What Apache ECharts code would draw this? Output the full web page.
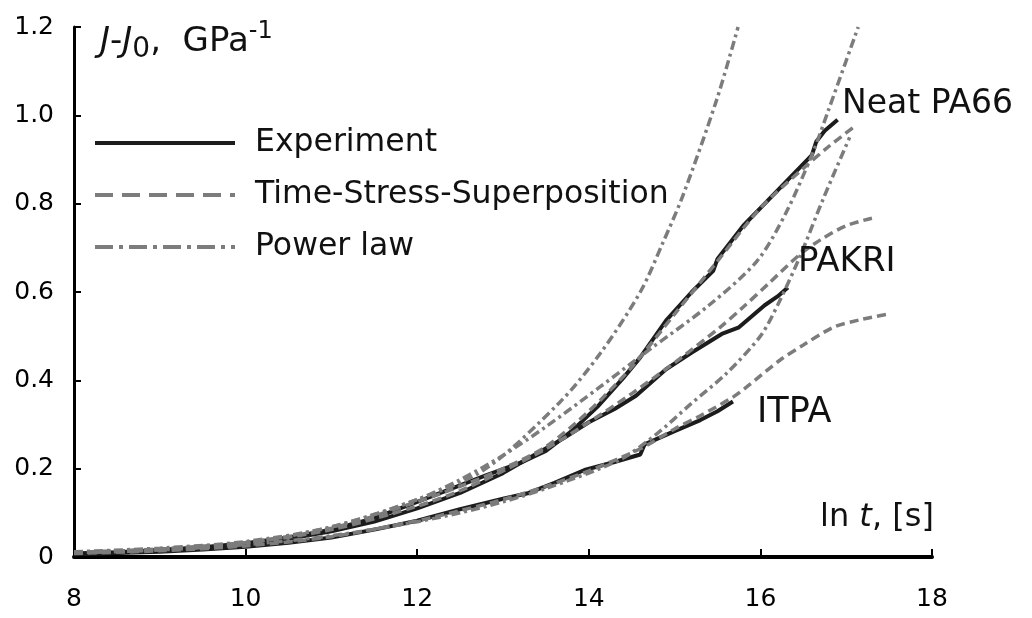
<!DOCTYPE html>
<html>
<head>
<meta charset="utf-8">
<script src="https://cdn.jsdelivr.net/npm/echarts@6/dist/echarts.min.js"></script>
<style>
  html, body { margin: 0; padding: 0; background: #fff; }
  #chart { width: 1032px; height: 618px; }
</style>
</head>
<body>
<div id="chart"></div>
<script>
// ln t, J-J0 pairs
const neatExp = [[8.0,0.008],[8.5,0.011],[9.0,0.016],[9.5,0.022],[10.0,0.031],[10.5,0.044],[11.0,0.062],[11.5,0.088],[12.0,0.125],[12.4,0.155],[12.8,0.185],[13.2,0.213],[13.5,0.24],[13.8,0.285],[14.1,0.34],[14.4,0.405],[14.6,0.452],[14.9,0.535],[15.2,0.6],[15.45,0.648],[15.5,0.675],[15.8,0.75],[16.0,0.79],[16.3,0.85],[16.6,0.91],[16.65,0.94],[16.75,0.965],[16.9,0.99]];
const pakriExp = [[8.0,0.007],[8.5,0.01],[9.0,0.015],[9.5,0.021],[10.0,0.029],[10.5,0.041],[11.0,0.058],[11.5,0.08],[12.0,0.11],[12.5,0.145],[13.0,0.19],[13.4,0.235],[13.7,0.268],[14.0,0.305],[14.3,0.335],[14.55,0.365],[14.9,0.425],[15.2,0.463],[15.55,0.505],[15.75,0.52],[16.05,0.57],[16.2,0.59],[16.32,0.61]];
const itpaExp = [[8.0,0.006],[8.5,0.009],[9.0,0.012],[9.5,0.017],[10.0,0.023],[10.5,0.032],[11.0,0.044],[11.5,0.062],[12.0,0.082],[12.5,0.108],[13.0,0.132],[13.3,0.145],[13.6,0.168],[13.95,0.197],[14.3,0.215],[14.6,0.232],[14.65,0.255],[15.0,0.285],[15.3,0.31],[15.5,0.33],[15.68,0.352]];

const neatTss = [[8.0,0.01],[9.0,0.018],[10.0,0.033],[11.0,0.065],[12.0,0.125],[12.5,0.16],[13.0,0.2],[13.5,0.25],[14.0,0.33],[14.5,0.43],[15.0,0.55],[15.5,0.67],[16.0,0.79],[16.5,0.88],[16.8,0.93],[17.1,0.975]];
const pakriTss = [[8.0,0.01],[9.0,0.018],[10.0,0.032],[11.0,0.062],[12.0,0.115],[12.5,0.15],[13.0,0.195],[13.5,0.245],[14.0,0.305],[14.5,0.37],[15.0,0.44],[15.53,0.52],[15.8,0.566],[16.1,0.62],[16.46,0.685],[16.7,0.718],[17.0,0.75],[17.3,0.767]];
const itpaTss = [[8.0,0.008],[9.0,0.014],[10.0,0.025],[11.0,0.046],[12.0,0.082],[12.5,0.105],[13.0,0.13],[13.5,0.16],[14.0,0.195],[14.6,0.245],[15.0,0.29],[15.3,0.32],[15.68,0.362],[15.84,0.385],[16.23,0.446],[16.5,0.48],[16.85,0.52],[17.16,0.537],[17.49,0.55]];

const neatPow = [[8.0,0.012],[9.0,0.02],[10.0,0.035],[11.0,0.068],[12.0,0.13],[12.8,0.2],[13.66,0.35],[14.13,0.46],[14.6,0.6],[14.86,0.71],[15.1,0.82],[15.49,1.035],[15.74,1.2]];
const pakriPow = [[8.0,0.01],[9.0,0.017],[10.0,0.032],[11.0,0.068],[12.0,0.13],[12.5,0.175],[13.0,0.23],[13.5,0.295],[14.13,0.385],[14.71,0.47],[15.4,0.57],[15.96,0.67],[16.3,0.78],[16.61,0.915],[16.79,1.01],[17.14,1.2]];
const itpaPow = [[8.0,0.009],[9.0,0.016],[10.0,0.028],[11.0,0.048],[12.0,0.08],[12.5,0.1],[13.0,0.125],[13.5,0.155],[14.36,0.22],[14.8,0.28],[15.18,0.345],[15.6,0.415],[16.0,0.5],[16.2,0.57],[16.46,0.68],[16.73,0.81],[17.04,0.95]];

const xTicks = [8, 10, 12, 14, 16, 18];
const yTicks = [0, 0.2, 0.4, 0.6, 0.8, 1.0, 1.2];
const legendNames = ["Experiment", "Time-Stress-Superposition", "Power law"];

const FONT = "DejaVu Sans";
const BLACK = "#1c1c1c";
const GREY = "#7c7c7c";

function expLine(data) {
  return {
    name: legendNames[0], type: "line", data: data, symbol: "none",
    color: BLACK, lineStyle: { color: BLACK, width: 4 }, z: 3
  };
}
function tssLine(data) {
  return {
    name: legendNames[1], type: "line", data: data, symbol: "none", smooth: 0.3,
    color: GREY, lineStyle: { color: GREY, width: 3.5, type: [9, 5] }, z: 4
  };
}
function powLine(data) {
  return {
    name: legendNames[2], type: "line", data: data, symbol: "none", smooth: 0.3,
    color: GREY, lineStyle: { color: GREY, width: 3.5, type: [9, 4, 3, 4] }, z: 4
  };
}

const chart = echarts.init(document.getElementById("chart"));

const hiddenDot = { opacity: 0 };

const option = {
  animation: false,
  backgroundColor: "#fff",
  grid: { left: 74, right: 100, top: 27, bottom: 61 },
  legend: {
    orient: "vertical",
    left: 93,
    top: 127,
    padding: 0,
    itemWidth: 140,
    itemHeight: 12,
    itemGap: 20,
    selectedMode: false,
    textStyle: { fontFamily: FONT, fontSize: 31.5, lineHeight: 32, color: "#111", padding: [0, 0, 0, 15] },
    data: [
      { name: legendNames[0], itemStyle: hiddenDot, lineStyle: { width: 4, type: "solid" } },
      { name: legendNames[1], itemStyle: hiddenDot, lineStyle: { width: 4, type: [18, 9] } },
      { name: legendNames[2], itemStyle: hiddenDot, lineStyle: { width: 4, type: [18, 6, 4, 6] } }
    ]
  },
  xAxis: {
    type: "value",
    min: xTicks[0],
    max: xTicks[xTicks.length - 1],
    interval: 2,
    axisLine: { show: true, onZero: false, lineStyle: { color: "#000", width: 4 } },
    axisTick: { show: true, inside: true, length: 8, lineStyle: { color: "#000", width: 2 } },
    axisLabel: { color: "#000", fontSize: 25, fontFamily: FONT, margin: 30 },
    splitLine: { show: false }
  },
  yAxis: {
    type: "value",
    min: yTicks[0],
    max: yTicks[yTicks.length - 1],
    interval: 0.2,
    axisLine: { show: true, lineStyle: { color: "#000", width: 3 } },
    axisTick: { show: true, inside: true, length: 7, lineStyle: { color: "#000", width: 2 } },
    axisLabel: {
      color: "#000", fontSize: 25, fontFamily: FONT, margin: 20,
      formatter: function (v) { return v === 0 ? "0" : v.toFixed(1); }
    },
    splitLine: { show: false }
  },
  graphic: [
    {
      type: "text", x: 100, y: 42, z: 10,
      style: {
        text: "{i|J}{n|-}{i|J}{sub|0}{n|,  GPa}{sup|-1}",
        fill: "#111", fontFamily: FONT, fontSize: 34, verticalAlign: "middle",
        rich: {
          n: { fontSize: 34, lineHeight: 44, fontFamily: FONT, fill: "#111" },
          i: { fontStyle: "italic", fontSize: 34, lineHeight: 44, fontFamily: FONT, fill: "#111" },
          sub: { fontSize: 28, lineHeight: 26, verticalAlign: "bottom", fontFamily: FONT, fill: "#111" },
          sup: { fontSize: 24, lineHeight: 24, verticalAlign: "top", fontFamily: FONT, fill: "#111" }
        }
      }
    },
    {
      type: "text", x: 820, y: 518, z: 10,
      style: {
        text: "ln {i|t}, [s]",
        fill: "#111", fontFamily: FONT, fontSize: 32, verticalAlign: "middle",
        rich: { i: { fontStyle: "italic", fontSize: 32, fontFamily: FONT, fill: "#111" } }
      }
    },
    { type: "text", x: 842, y: 104, z: 10, style: { text: "Neat PA66", fill: "#111", fontFamily: FONT, fontSize: 33, verticalAlign: "middle" } },
    { type: "text", x: 798, y: 262, z: 10, style: { text: "PAKRI", fill: "#111", fontFamily: FONT, fontSize: 34, verticalAlign: "middle" } },
    { type: "text", x: 757, y: 413, z: 10, style: { text: "ITPA", fill: "#111", fontFamily: FONT, fontSize: 35, verticalAlign: "middle" } }
  ],
  series: [
    expLine(neatExp),
    tssLine(neatTss),
    powLine(neatPow),
    expLine(pakriExp),
    tssLine(pakriTss),
    powLine(pakriPow),
    expLine(itpaExp),
    tssLine(itpaTss),
    powLine(itpaPow)
  ]
};

chart.setOption(option);
window.addEventListener("resize", function () { chart.resize(); });
</script>
</body>
</html>
